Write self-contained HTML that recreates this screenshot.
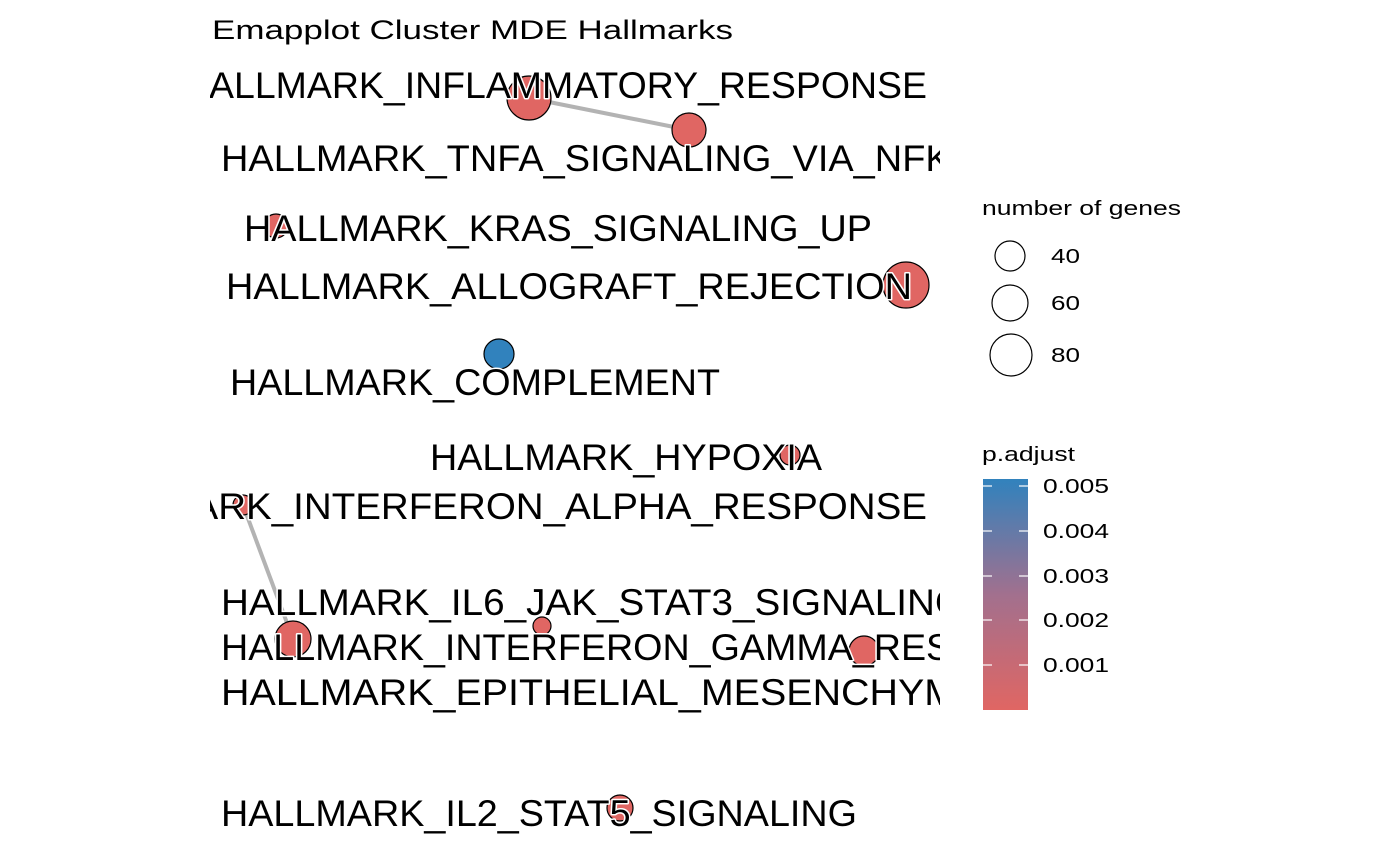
<!DOCTYPE html>
<html><head><style>body{margin:0;background:#fff}svg{display:block}</style></head><body>
<svg width="1400" height="865" xmlns="http://www.w3.org/2000/svg" font-family="Liberation Sans, Arial, sans-serif">
<rect width="1400" height="865" fill="#fff"/>
<text x="212" y="39" font-size="27" textLength="521" lengthAdjust="spacingAndGlyphs">Emapplot Cluster MDE Hallmarks</text>
<defs><clipPath id="c"><rect x="210" y="50" width="730" height="800"/></clipPath>
<linearGradient id="g" x1="0" y1="0" x2="0" y2="1"><stop offset="0" stop-color="#3182bd"/><stop offset="0.5" stop-color="#a2708e"/><stop offset="1" stop-color="#e06663"/></linearGradient></defs>
<g clip-path="url(#c)">
<g stroke="#b3b3b3" stroke-width="4"><line x1="529" y1="98" x2="689" y2="130"/><line x1="243" y1="505" x2="293" y2="639"/></g>
<g fill="#e06663" stroke="#000" stroke-width="1.2">
<circle cx="529" cy="98" r="22"/><circle cx="689" cy="130" r="17"/><circle cx="276" cy="226" r="12"/>
<circle cx="906" cy="285" r="23"/><circle cx="499" cy="354" r="15" fill="#3182bd"/><circle cx="790" cy="455" r="10"/>
<circle cx="243" cy="505" r="10"/><circle cx="293" cy="639" r="18"/><circle cx="542" cy="626" r="9"/>
<circle cx="864" cy="651" r="15"/><circle cx="620" cy="808" r="13"/></g>
<g font-size="37" fill="#000" stroke="#fff" stroke-width="3" paint-order="stroke" stroke-linejoin="round">
<text x="182" y="98" textLength="745" lengthAdjust="spacingAndGlyphs">HALLMARK_INFLAMMATORY_RESPONSE</text>
<text x="221" y="171" textLength="755" lengthAdjust="spacingAndGlyphs">HALLMARK_TNFA_SIGNALING_VIA_NFKB</text>
<text x="244" y="241" textLength="628" lengthAdjust="spacingAndGlyphs">HALLMARK_KRAS_SIGNALING_UP</text>
<text x="226" y="299" textLength="686" lengthAdjust="spacingAndGlyphs">HALLMARK_ALLOGRAFT_REJECTION</text>
<text x="230" y="395" textLength="490" lengthAdjust="spacingAndGlyphs">HALLMARK_COMPLEMENT</text>
<text x="430" y="470" textLength="392" lengthAdjust="spacingAndGlyphs">HALLMARK_HYPOXIA</text>
<text x="64" y="519" textLength="863" lengthAdjust="spacingAndGlyphs">HALLMARK_INTERFERON_ALPHA_RESPONSE</text>
<text x="221" y="615" textLength="744" lengthAdjust="spacingAndGlyphs">HALLMARK_IL6_JAK_STAT3_SIGNALING</text>
<text x="221" y="660" textLength="862" lengthAdjust="spacingAndGlyphs">HALLMARK_INTERFERON_GAMMA_RESPONSE</text>
<text x="221" y="705" textLength="1045" lengthAdjust="spacingAndGlyphs">HALLMARK_EPITHELIAL_MESENCHYMAL_TRANSITION</text>
<text x="221" y="826" textLength="636" lengthAdjust="spacingAndGlyphs">HALLMARK_IL2_STAT5_SIGNALING</text>
</g></g>
<g font-size="20" fill="#000">
<text x="982" y="215" textLength="199" lengthAdjust="spacingAndGlyphs">number of genes</text>
<g fill="none" stroke="#000" stroke-width="1.2"><circle cx="1010" cy="256" r="15"/><circle cx="1010" cy="303" r="18"/><circle cx="1011" cy="355" r="21"/></g>
<text x="1051" y="263" textLength="29" lengthAdjust="spacingAndGlyphs">40</text><text x="1051" y="310" textLength="29" lengthAdjust="spacingAndGlyphs">60</text><text x="1051" y="362" textLength="29" lengthAdjust="spacingAndGlyphs">80</text>
<text x="982" y="461" textLength="93" lengthAdjust="spacingAndGlyphs">p.adjust</text>
<rect x="983" y="479" width="45" height="231" fill="url(#g)"/>
<g stroke="#fff" stroke-width="1.2">
<line x1="983" y1="486" x2="992" y2="486"/><line x1="1019" y1="486" x2="1028" y2="486"/>
<line x1="983" y1="531" x2="992" y2="531"/><line x1="1019" y1="531" x2="1028" y2="531"/>
<line x1="983" y1="576" x2="992" y2="576"/><line x1="1019" y1="576" x2="1028" y2="576"/>
<line x1="983" y1="620" x2="992" y2="620"/><line x1="1019" y1="620" x2="1028" y2="620"/>
<line x1="983" y1="665" x2="992" y2="665"/><line x1="1019" y1="665" x2="1028" y2="665"/></g>
<g>
<text x="1043" y="493" textLength="66" lengthAdjust="spacingAndGlyphs">0.005</text><text x="1043" y="538" textLength="66" lengthAdjust="spacingAndGlyphs">0.004</text><text x="1043" y="583" textLength="66" lengthAdjust="spacingAndGlyphs">0.003</text><text x="1043" y="627" textLength="66" lengthAdjust="spacingAndGlyphs">0.002</text><text x="1043" y="672" textLength="66" lengthAdjust="spacingAndGlyphs">0.001</text>
</g></g>
</svg>
</body></html>
